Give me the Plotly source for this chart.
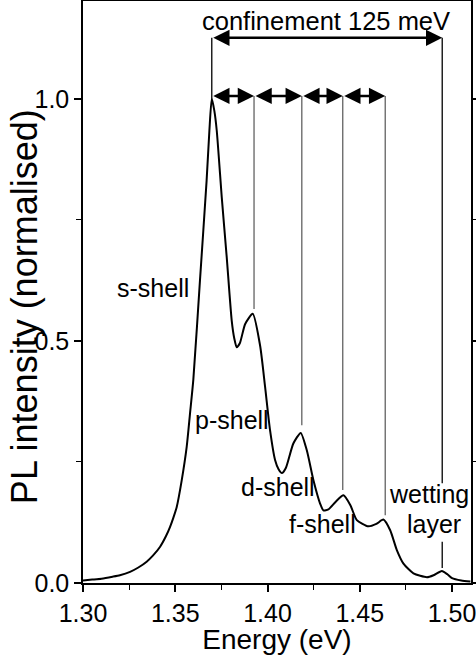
import plotly.graph_objects as go

# PL spectrum
energy = [1.300, 1.305, 1.310, 1.316, 1.320, 1.3255, 1.330, 1.3345, 1.338, 1.3418,
          1.345, 1.3472, 1.349, 1.3508, 1.3535, 1.3562, 1.358, 1.3598, 1.3634, 1.367,
          1.3685, 1.3698, 1.3712, 1.3725, 1.3752, 1.3779, 1.3806, 1.382, 1.3833, 1.385,
          1.3879, 1.392, 1.396, 1.3987, 1.4014, 1.4041, 1.406, 1.4078, 1.410, 1.414,
          1.418, 1.4213, 1.4249, 1.4285, 1.4303, 1.433, 1.437, 1.4412, 1.445, 1.4484,
          1.4547, 1.459, 1.4628, 1.4665, 1.4701, 1.4737, 1.4791, 1.4864, 1.490, 1.4945,
          1.4975, 1.500, 1.505, 1.510]
intensity = [0.005, 0.007, 0.009, 0.013, 0.016, 0.023, 0.032, 0.044, 0.057, 0.075,
             0.097, 0.116, 0.135, 0.157, 0.212, 0.281, 0.350, 0.420, 0.625, 0.831,
             0.934, 1.000, 0.975, 0.934, 0.797, 0.673, 0.542, 0.505, 0.487, 0.495,
             0.535, 0.556, 0.490, 0.405, 0.315, 0.254, 0.235, 0.227, 0.238, 0.288,
             0.310, 0.274, 0.212, 0.164, 0.150, 0.152, 0.168, 0.181, 0.160, 0.130,
             0.117, 0.122, 0.131, 0.109, 0.068, 0.040, 0.020, 0.012, 0.016, 0.025,
             0.018, 0.010, 0.005, 0.003]

# shell peak energies (s, p, d, f, g) and wetting layer
shell_energies = [1.3698, 1.3927, 1.4186, 1.4408, 1.4638]
shell_line_bottoms = [1.000, 0.566, 0.326, 0.192, 0.140]
wetting_energy = 1.4947
arrow_level = 1.006
confinement_level = 1.126

# labels
label_texts = ["s-shell", "p-shell", "d-shell", "f-shell", "wetting", "layer"]
label_x = [1.3377, 1.3806, 1.4055, 1.4299, 1.4876, 1.4900]
label_y = [0.610, 0.336, 0.198, 0.122, 0.184, 0.122]
conf_text = "confinement 125 meV"
conf_pos = (1.4315, 1.161)

x_ticks = [1.30, 1.35, 1.40, 1.45, 1.50]
y_ticks = [0.0, 0.5, 1.0]

FONT = "Liberation Sans, Arial, Helvetica, sans-serif"

fig = go.Figure()
fig.add_trace(go.Scatter(x=energy, y=intensity, mode="lines",
                         line=dict(color="black", width=2, shape="spline", smoothing=0.6),
                         hoverinfo="skip", showlegend=False))

shapes = []
shapes.append(dict(type="line", xref="x", yref="y", x0=shell_energies[0], x1=shell_energies[0],
                   y0=shell_line_bottoms[0], y1=confinement_level,
                   line=dict(color="black", width=1.3)))
for e, yb in zip(shell_energies[1:], shell_line_bottoms[1:]):
    shapes.append(dict(type="line", xref="x", yref="y", x0=e, x1=e, y0=yb, y1=arrow_level,
                       line=dict(color="#555555", width=1.2)))
shapes.append(dict(type="line", xref="x", yref="y", x0=wetting_energy, x1=wetting_energy,
                   y0=0.206, y1=confinement_level, line=dict(color="black", width=1.3)))
shapes.append(dict(type="line", xref="x", yref="y", x0=wetting_energy, x1=wetting_energy,
                   y0=0.031, y1=0.085, line=dict(color="black", width=1.3)))

annotations = []
def dbl_arrow(x0, x1, y):
    return dict(x=x1, y=y, ax=x0, ay=y, xref="x", yref="y", axref="x", ayref="y",
                text="", showarrow=True, arrowhead=2, startarrowhead=2,
                arrowside="end+start", arrowsize=1.3, startarrowsize=1.3,
                arrowwidth=2.5, arrowcolor="black", standoff=0, startstandoff=0)

annotations.append(dbl_arrow(shell_energies[0], wetting_energy, confinement_level))
for a, b in zip(shell_energies[:-1], shell_energies[1:]):
    annotations.append(dbl_arrow(a, b, arrow_level))

for t, x, y in zip(label_texts, label_x, label_y):
    annotations.append(dict(x=x, y=y, xref="x", yref="y", text=t, showarrow=False,
                            xanchor="center", yanchor="middle",
                            font=dict(family=FONT, size=25, color="black")))
annotations.append(dict(x=conf_pos[0], y=conf_pos[1], xref="x", yref="y", text=conf_text,
                        showarrow=False, xanchor="center", yanchor="middle",
                        font=dict(family=FONT, size=25.5, color="black")))
# y-axis title
annotations.append(dict(x=0, y=0.474, xref="paper", yref="paper", xshift=-59,
                        text="PL intensity (normalised)", textangle=-90, showarrow=False,
                        xanchor="center", yanchor="middle",
                        font=dict(family=FONT, size=36, color="black")))

axis_common = dict(showline=True, linecolor="black", linewidth=1.5, mirror="ticks",
                   ticks="outside", ticklen=7, tickwidth=1.5, tickcolor="black",
                   showgrid=False, zeroline=False, automargin=False,
                   ticklabeloverflow="allow",
                   tickfont=dict(family=FONT, size=25, color="black"))

fig.update_layout(
    width=476, height=655,
    margin=dict(l=83, r=5, t=1, b=72),
    paper_bgcolor="white", plot_bgcolor="white",
    shapes=shapes, annotations=annotations,
    xaxis=dict(range=[1.30, 1.5103], tickvals=x_ticks, ticktext=[f"{v:.2f}" for v in x_ticks],
               minor=dict(dtick=0.025, tick0=1.30, ticks="outside", ticklen=5,
                          tickwidth=1.2, tickcolor="black"),
               title=dict(text="Energy (eV)", font=dict(family=FONT, size=28, color="black"),
                          standoff=2),
               **axis_common),
    yaxis=dict(range=[0, 1.202], tickvals=y_ticks, ticktext=[f"{v:.1f}" for v in y_ticks],
               minor=dict(dtick=0.25, tick0=0, ticks="outside", ticklen=5,
                          tickwidth=1.2, tickcolor="black"),
               **axis_common),
)

fig.write_html("out.html")
